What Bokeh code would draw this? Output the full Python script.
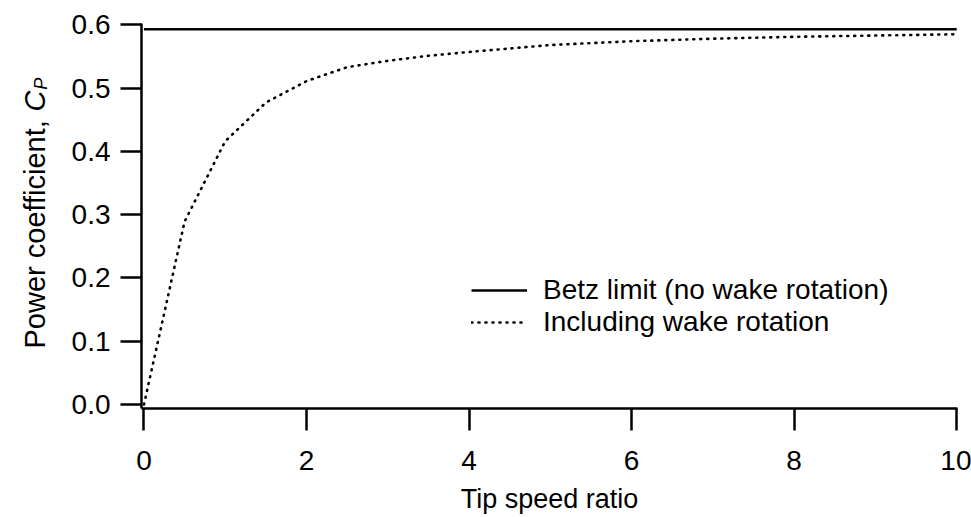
import math
from bokeh.plotting import figure
from bokeh.layouts import row
from bokeh.models import Range1d, FixedTicker, Label, NumeralTickFormatter
from bokeh.embed import file_html
from bokeh.resources import INLINE

# ---- data ----
tsr = [0.0, 0.5, 1.0, 1.5, 2.0, 2.5, 3.0, 3.5, 4.0, 5.0, 6.0, 7.0, 8.0, 9.0, 10.0]
cp_wake = [0.0, 0.289, 0.416, 0.477, 0.511, 0.533, 0.543, 0.551, 0.557, 0.568,
           0.574, 0.578, 0.581, 0.583, 0.585]
betz_x = [0.0, 10.0]
betz_cp = [0.593, 0.593]
x_ticks = [0, 2, 4, 6, 8, 10]
y_ticks = [0.0, 0.1, 0.2, 0.3, 0.4, 0.5, 0.6]

FONT = "Liberation Sans"
H = 517
LW = 60                 # width of the strip that carries the y-axis title
W = 971 - LW
BL, BR, BT, BB = 141 - LW, 14, 23, 109

# ---- main chart ----
p = figure(width=W, height=H, output_backend="svg", toolbar_location=None,
           x_range=Range1d(-0.03, 10.01), y_range=Range1d(-0.0063, 0.602),
           min_border_left=BL, min_border_right=BR, min_border_top=BT,
           min_border_bottom=BB)
p.outline_line_color = None
p.xgrid.visible = False
p.ygrid.visible = False
p.background_fill_color = "white"
p.border_fill_color = "white"

p.line(betz_x, betz_cp, line_color="black", line_width=2.5,
       legend_label="Betz limit (no wake rotation)")
p.line(tsr, cp_wake, line_color="black", line_width=2.6, line_dash="1 6",
       line_cap="round", legend_label="Including wake rotation")

for ax in (p.xaxis[0], p.yaxis[0]):
    ax.axis_line_width = 2.5
    ax.axis_line_color = "black"
    ax.major_tick_line_width = 2.5
    ax.major_tick_line_color = "black"
    ax.major_tick_in = 0
    ax.minor_tick_line_color = None
    ax.major_label_text_font = FONT
    ax.major_label_text_color = "black"
    ax.major_label_text_font_size = "28px"

p.xaxis.ticker = FixedTicker(ticks=x_ticks)
p.xaxis.major_tick_out = 22
p.xaxis.major_label_standoff = 20
p.xaxis.axis_label = "Tip speed ratio"
p.xaxis.axis_label_text_font = FONT
p.xaxis.axis_label_text_font_style = "normal"
p.xaxis.axis_label_text_font_size = "27px"
p.xaxis.axis_label_text_color = "black"
p.xaxis.axis_label_standoff = 11

p.yaxis.ticker = FixedTicker(ticks=y_ticks)
p.yaxis.formatter = NumeralTickFormatter(format="0.0")
p.yaxis.major_tick_out = 21
p.yaxis.major_label_standoff = 10

leg = p.legend[0]
leg.location = (330, 70)
leg.border_line_color = None
leg.background_fill_alpha = 0
leg.padding = 0
leg.margin = 0
leg.spacing = -4
leg.glyph_width = 56
leg.label_standoff = 16
leg.label_text_font = FONT
leg.label_text_font_size = "28px"
leg.label_text_color = "black"

# ---- strip with the y-axis title "Power coefficient, C_P" ----
t = figure(width=LW, height=H, output_backend="svg", toolbar_location=None,
           x_axis_type=None, y_axis_type=None,
           x_range=Range1d(0, 1), y_range=Range1d(0, 1),
           min_border_left=0, min_border_right=0, min_border_top=BT,
           min_border_bottom=BB)
t.outline_line_color = None
t.xgrid.visible = False
t.ygrid.visible = False
t.background_fill_color = "white"
t.border_fill_color = "white"

yl_font = 29
lab_x = 34               # px from the strip's left edge
lab_start = 60           # px above the frame bottom where the text begins
w_main = 8.17 * yl_font
w_c = 0.722 * yl_font
common = dict(angle=math.pi / 2, text_font=FONT, text_align="left",
              text_baseline="middle", text_color="black",
              x_units="screen", y_units="screen")
t.add_layout(Label(x=lab_x, y=lab_start, text="Power coefficient, ",
                   text_font_size=f"{yl_font}px", **common))
t.add_layout(Label(x=lab_x, y=lab_start + w_main, text="C",
                   text_font_style="italic", text_font_size=f"{yl_font}px", **common))
t.add_layout(Label(x=lab_x + 6, y=lab_start + w_main + w_c + 1, text="P",
                   text_font_style="italic",
                   text_font_size=f"{int(yl_font * 0.65)}px", **common))

layout = row(t, p, spacing=0)
open("out.html", "w").write(file_html(layout, INLINE))
